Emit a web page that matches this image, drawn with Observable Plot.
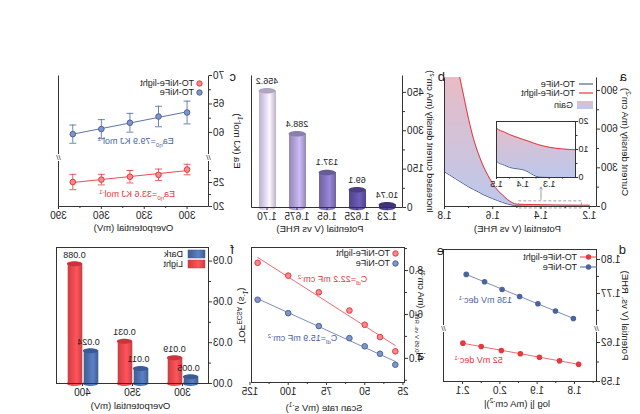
<!DOCTYPE html>
<html><head><meta charset="utf-8">
<script src="https://cdn.jsdelivr.net/npm/d3@7"></script>
<script src="https://cdn.jsdelivr.net/npm/@observablehq/plot@0.6"></script>
<style>
html,body{margin:0;padding:0;background:#fff;}
#fig{position:relative;width:640px;height:414px;overflow:hidden;transform:scaleX(-1);font-family:"Liberation Sans",Arial,sans-serif;color:#222;background:#fff;}
#fig svg.plotsvg{position:absolute;}
.lbl{position:absolute;font-size:13px;line-height:13px;}
.legt{position:absolute;font-size:9px;line-height:10px;white-space:nowrap;color:#222;}
.legs{position:absolute;overflow:visible;}
</style></head><body><div id="fig"></div><script>
// ================= DATA =================
const seriesNames = ["TO-NiFe", "TO-NiFe-light"];
const tofSeries = ["Dark", "Light"];
const panelLetters = ["a", "b", "c", "d", "e", "f"];

// (a) polarization curves
const potentialA = [1.20,1.25,1.30,1.34,1.36,1.38,1.40,1.43,1.45,1.47,1.50,1.52,1.54,1.56,1.58,1.60,1.62,1.64,1.66,1.68,1.70,1.72,1.74,1.76,1.78,1.80];
const currentDark = [0,0,0,0.2,0.9,2.0,2.8,3.2,3.6,4.4,5.8,11,20,32,46,60,76,92,113,132,152,175,198,222,245,268];
const currentLight = [9.9,10.2,10.8,11.7,12.3,13.0,13.6,14.6,15.3,16.2,17.6,30,55,90,125,176,240,315,410,525,675,850,1030,1220,1420,1620];
const zoomWindow = [{x1: 1.235, x2: 1.495, y1: -15, y2: 40}];
const zoomArrow = [{x: 1.40, y1: 55, y2: 150}];

// (b) increased current density
const gainPotential = ["1.23", "1.625", "1.65", "1.675", "1.70"];
const gainValue = [10.74, 69.1, 137.1, 288.4, 456.2];

// (c) apparent activation energy
const overpotC = [300, 320, 340, 360, 380];
const eaDark = [63.5, 62.8, 61.7, 60.6, 59.7];
const eaDarkErr = [2.0, 1.8, 1.65, 1.65, 1.6];
const eaLight = [27.7, 26.6, 26.2, 25.6, 25.1];
const eaLightErr = [1.1, 1.2, 1.3, 1.1, 1.6];
const eaLabels = ["Ea_{η0}=79.9 KJ mol^{-1}", "Ea_{η0}=33.6 KJ mol^{-1}"];

// (d) Tafel
const logjDark = [1.803, 1.851, 1.898, 1.947, 1.994, 2.041, 2.090];
const potDark = [1.7479, 1.7544, 1.7609, 1.7673, 1.7735, 1.7803, 1.7868];
const logjLight = [1.789, 1.840, 1.894, 1.945, 1.996, 2.050, 2.099];
const potLight = [1.6033, 1.6059, 1.6087, 1.6113, 1.6138, 1.6169, 1.6195];
const tafelLabels = ["136 mV dec^{-1}", "52 mV dec^{-1}"];

// (e) double layer capacitance
const scanRate = [30, 40, 50, 60, 80, 100, 120];
const jDark = [3.71, 4.21, 4.55, 4.92, 5.47, 6.06, 6.67];
const jLight = [4.32, 4.97, 5.53, 6.18, 7.01, 7.77, 8.35];
const cdlLabels = ["C_{dl}=15.9 mF cm^{-2}", "C_{dl}=22.2 mF cm^{-2}"];

// (f) TOF
const tofOverpot = ["300", "350", "400"];
const tofDark = [0.005, 0.011, 0.024];
const tofLight = [0.019, 0.031, 0.088];

// ================= STYLE / HELPERS =================
const SVGNS = "http://www.w3.org/2000/svg";
const FONT = '"Liberation Sans", Arial, sans-serif';
const RED = "#e8383d", BLUE = "#4a64a0", AX = "#333";
const fig = document.getElementById("fig");
const ST = (fs = 10) => ({background: "none", overflow: "visible", fontFamily: FONT, fontSize: fs + "px", color: "#222"});

const ELLIPSE = {draw(ctx, size) {
  const rx = Math.sqrt(size / Math.PI), ry = rx * 0.33, k = 0.5523;
  ctx.moveTo(rx, 0);
  ctx.bezierCurveTo(rx, ry * k, rx * k, ry, 0, ry);
  ctx.bezierCurveTo(-rx * k, ry, -rx, ry * k, -rx, 0);
  ctx.bezierCurveTo(-rx, -ry * k, -rx * k, -ry, 0, -ry);
  ctx.bezierCurveTo(rx * k, -ry, rx, -ry * k, rx, 0);
  ctx.closePath();
}};
const CAP = {draw(ctx, size) { const w = Math.sqrt(size / Math.PI); ctx.moveTo(-w, 0); ctx.lineTo(w, 0); }};

const openFrame = (W, H) => Plot.frame({stroke: AX, strokeDasharray: `0 ${W} ${2 * H + W}`});
const T = (s, o) => Plot.text([s], {text: d => d, fontSize: 9.5, textAnchor: "middle", lineAnchor: "middle", ...o});

function richify(svg) {
  svg.querySelectorAll("text").forEach(t => {
    const s = t.textContent;
    if (!/[_^]\{/.test(s)) return;
    const fs = parseFloat(getComputedStyle(t).fontSize) || 10;
    t.textContent = "";
    const re = /([_^])\{([^}]*)\}|([^_^]+)/g;
    let m, cur = 0;
    while ((m = re.exec(s))) {
      const ts = document.createElementNS(SVGNS, "tspan");
      let target = 0;
      if (m[3] !== undefined) ts.textContent = m[3];
      else {
        ts.textContent = m[2];
        ts.setAttribute("font-size", (fs * 0.68).toFixed(2));
        target = m[1] === "_" ? fs * 0.28 : -fs * 0.38;
      }
      ts.setAttribute("dy", (target - cur).toFixed(2));
      cur = target;
      t.appendChild(ts);
    }
  });
}
function mount(svg, left, top, defs) {
  svg.classList.add("plotsvg");
  svg.style.position = "absolute";
  svg.style.left = left + "px";
  svg.style.top = top + "px";
  if (defs) { const d = document.createElementNS(SVGNS, "defs"); d.innerHTML = defs; svg.insertBefore(d, svg.firstChild); }
  fig.appendChild(svg);
  richify(svg);
}
function cylGrad(id, c) {
  const base = d3.color(c), hi = d3.color(c).brighter(0.55), lo = d3.color(c).darker(0.35);
  return `<linearGradient id="${id}" x1="0" x2="1" y1="0" y2="0"><stop offset="0" stop-color="${lo}"/><stop offset="0.38" stop-color="${hi}"/><stop offset="0.75" stop-color="${base}"/><stop offset="1" stop-color="${lo}"/></linearGradient>`;
}
const gainGrad = (id, y1, y2) => `<linearGradient id="${id}" gradientUnits="userSpaceOnUse" x1="0" x2="0" y1="${y1}" y2="${y2}"><stop offset="0" stop-color="#e8bcc6"/><stop offset="1" stop-color="#bcc8ec"/></linearGradient>`;

// ================= (a) =================
const dA = potentialA.map((p, i) => ({p, dark: currentDark[i], light: currentLight[i]}));
const svgA = Plot.plot({
  width: 200, height: 175, marginTop: 17, marginRight: 5, marginBottom: 29, marginLeft: 43, style: ST(),
  x: {domain: [1.17, 1.8]}, y: {domain: [0, 1000]},
  marks: [
    Plot.areaY(dA, {x: "p", y1: "dark", y2: "light", fill: "url(#gainA)", curve: "monotone-x", clip: true}),
    Plot.lineY(dA, {x: "p", y: "dark", stroke: BLUE, strokeWidth: 1, curve: "monotone-x", clip: true}),
    Plot.lineY(dA, {x: "p", y: "light", stroke: RED, strokeWidth: 1, curve: "monotone-x", clip: true}),
    Plot.rect(zoomWindow, {x1: "x1", x2: "x2", y1: "y1", y2: "y2", fill: "none", stroke: "#8a8a8a", strokeDasharray: "3,2", strokeWidth: 0.8}),
    Plot.arrow(zoomArrow, {x1: "x", x2: "x", y1: "y1", y2: "y2", stroke: "#8a8a8a", strokeWidth: 0.8, headLength: 4}),
    openFrame(152, 129),
    Plot.axisX({ticks: [1.2, 1.4, 1.6, 1.8], tickFormat: ".1f", tickSize: 3, tickPadding: 2.5, label: null, stroke: AX}),
    Plot.axisX({ticks: [1.3, 1.5, 1.7], tickSize: 2, fill: "none", label: null, stroke: AX}),
    Plot.axisY({ticks: [0, 300, 600, 900], tickSize: 3, tickPadding: 1.5, label: null, stroke: AX}),
    Plot.axisY({ticks: [150, 450, 750], tickSize: 2, fill: "none", label: null, stroke: AX}),
    T("Potential (V vs RHE)", {frameAnchor: "bottom", dy: 22, dx: 3}),
    T("Current density (mA cm^{-2})", {frameAnchor: "left", dx: -29, rotate: -90})
  ]
});
mount(svgA, 0, 60, gainGrad("gainA", 17, 146));

const svgInset = Plot.plot({
  width: 110, height: 82, marginTop: 11, marginRight: 7, marginBottom: 15, marginLeft: 24, style: ST(9),
  x: {domain: [1.2, 1.5]}, y: {domain: [0, 20]},
  marks: [
    Plot.frame({fill: "white", stroke: "none"}),
    Plot.areaY(dA, {x: "p", y1: "dark", y2: "light", fill: "url(#gainI)", curve: "monotone-x", clip: true}),
    Plot.lineY(dA, {x: "p", y: "dark", stroke: BLUE, strokeWidth: 1, curve: "monotone-x", clip: true}),
    Plot.lineY(dA, {x: "p", y: "light", stroke: RED, strokeWidth: 1, curve: "monotone-x", clip: true}),
    Plot.frame({stroke: AX}),
    Plot.axisX({ticks: [1.3, 1.4, 1.5], tickFormat: ".1f", tickSize: 2, tickPadding: 1, label: null, stroke: AX}),
    Plot.axisX({ticks: [1.25, 1.35, 1.45], tickSize: 1.5, fill: "none", label: null, stroke: AX}),
    Plot.axisY({ticks: [0, 10, 20], tickSize: 2, tickPadding: 1, label: null, stroke: AX}),
    Plot.axisY({ticks: [5, 15], tickSize: 1.5, fill: "none", label: null, stroke: AX})
  ]
});
mount(svgInset, 40, 110, gainGrad("gainI", 11, 67));

// ================= (b) =================
const bColors = ["#4d4090", "#5b4d9c", "#7e70b4", "#a89acc", "#d4cae7"];
const dB = gainPotential.map((p, i) => ({p, v: gainValue[i], k: i}));
const svgB = Plot.plot({
  width: 200, height: 175, marginTop: 15, marginRight: 12, marginBottom: 28, marginLeft: 37, style: ST(),
  x: {domain: gainPotential, paddingInner: 0.44, paddingOuter: 0.22},
  y: {domain: [0, 516]},
  color: {type: "identity"},
  marks: [
    Plot.dot(dB, {x: "p", y: 0, r: 8.45, symbol: ELLIPSE, fill: d => `url(#cylB${d.k})`}),
    Plot.barY(dB, {x: "p", y: "v", fill: d => `url(#cylB${d.k})`}),
    Plot.dot(dB, {x: "p", y: "v", r: 8.45, symbol: ELLIPSE, fill: d => d3.color(bColors[d.k]).darker(0.55).formatHex()}),
    Plot.text(dB, {x: "p", y: "v", text: d => String(d.v), dy: -10, fontSize: 9}),
    openFrame(151, 132),
    Plot.axisX({tickSize: 3, tickPadding: 2.5, label: null, stroke: AX}),
    Plot.axisY({ticks: [0, 150, 300, 450], tickSize: 3, tickPadding: 1.5, label: null, stroke: AX}),
    Plot.axisY({ticks: [75, 225, 375], tickSize: 2, fill: "none", label: null, stroke: AX}),
    T("Potential (V vs RHE)", {frameAnchor: "bottom", dy: 21, dx: 7}),
    T("Increased current density (mA cm^{-2})", {frameAnchor: "left", dx: -27, rotate: -90, fontSize: 9})
  ]
});
mount(svgB, 200, 60, bColors.map((c, i) => cylGrad("cylB" + i, c)).join(""));

// ================= (c) =================
const cY = v => v < 42 ? (v - 20) * 4.8 : 49 + (v - 55.6) * 5.694;
const cTicks = [20, 25, 60, 65, 70];
const cTickMap = new Map(cTicks.map(v => [cY(v), String(v)]));
const dC = overpotC.map((x, i) => ({x, dark: eaDark[i], de: eaDarkErr[i], light: eaLight[i], le: eaLightErr[i]}));
const svgC = Plot.plot({
  width: 200, height: 175, marginTop: 15, marginRight: 19, marginBottom: 29, marginLeft: 31, style: ST(),
  x: {domain: [285, 390]}, y: {domain: [0, 131]},
  marks: [
    Plot.linearRegressionY(dC, {x: "x", y: d => cY(d.dark), stroke: BLUE, strokeWidth: 0.9, ci: 0}),
    Plot.linearRegressionY(dC, {x: "x", y: d => cY(d.light), stroke: RED, strokeWidth: 0.9, ci: 0}),
    Plot.ruleX(dC, {x: "x", y1: d => cY(d.dark - d.de), y2: d => cY(d.dark + d.de), stroke: BLUE, strokeWidth: 0.8}),
    Plot.dot(dC, {x: "x", y: d => cY(d.dark - d.de), r: 3.5, symbol: CAP, stroke: BLUE, fill: "none", strokeWidth: 0.8}),
    Plot.dot(dC, {x: "x", y: d => cY(d.dark + d.de), r: 3.5, symbol: CAP, stroke: BLUE, fill: "none", strokeWidth: 0.8}),
    Plot.ruleX(dC, {x: "x", y1: d => cY(d.light - d.le), y2: d => cY(d.light + d.le), stroke: RED, strokeWidth: 0.8}),
    Plot.dot(dC, {x: "x", y: d => cY(d.light - d.le), r: 3.5, symbol: CAP, stroke: RED, fill: "none", strokeWidth: 0.8}),
    Plot.dot(dC, {x: "x", y: d => cY(d.light + d.le), r: 3.5, symbol: CAP, stroke: RED, fill: "none", strokeWidth: 0.8}),
    Plot.dot(dC, {x: "x", y: d => cY(d.dark), r: 2.8, fill: "#8196c6", stroke: BLUE, strokeWidth: 1}),
    Plot.dot(dC, {x: "x", y: d => cY(d.light), r: 2.8, fill: "#f48a8d", stroke: RED, strokeWidth: 1}),
    Plot.text([eaLabels[0]], {text: d => d, x: 336, y: cY(58.4), fill: BLUE, fontSize: 9}),
    Plot.text([eaLabels[1]], {text: d => d, x: 335, y: cY(22.5), fill: RED, fontSize: 9}),
    openFrame(150, 131),
    Plot.text([285, 390], {x: d => d, y: 49, text: () => "//", fontSize: 8, fill: AX, stroke: "white", strokeWidth: 2}),
    Plot.axisX({ticks: [300, 330, 360, 390], tickSize: 3, tickPadding: 2, label: null, stroke: AX}),
    Plot.axisX({ticks: [315, 345, 375], tickSize: 2, fill: "none", label: null, stroke: AX}),
    Plot.axisY({ticks: cTicks.map(cY), tickFormat: v => cTickMap.get(v), tickSize: 3, tickPadding: 1.5, label: null, stroke: AX}),
    Plot.axisY({ticks: [22.5, 27.5, 62.5, 67.5].map(cY), tickSize: 2, fill: "none", label: null, stroke: AX}),
    T("Overpotential (mV)", {frameAnchor: "bottom", dy: 21}),
    T("Ea (KJ mol^{-1})", {frameAnchor: "left", dx: -29, rotate: -90})
  ]
});
mount(svgC, 400, 60);

// ================= (d) =================
const dYf = v => v < 1.7 ? (v - 1.59) * 1300 : 53 + (v - 1.739) * 1132;
const dTicks = [1.59, 1.62, 1.77, 1.80];
const dTickMap = new Map(dTicks.map(v => [dYf(v), v.toFixed(2)]));
const dDark = logjDark.map((x, i) => ({x, y: potDark[i]}));
const dLight = logjLight.map((x, i) => ({x, y: potLight[i]}));
const svgD = Plot.plot({
  width: 210, height: 179, marginTop: 14, marginRight: 14, marginBottom: 33, marginLeft: 43, style: ST(),
  x: {domain: [1.741, 2.151]}, y: {domain: [0, 132]},
  marks: [
    Plot.linearRegressionY(dDark, {x: "x", y: d => dYf(d.y), stroke: "#6b80b4", strokeWidth: 0.9, ci: 0}),
    Plot.linearRegressionY(dLight, {x: "x", y: d => dYf(d.y), stroke: "#ee5a5f", strokeWidth: 0.9, ci: 0}),
    Plot.dot(dDark, {x: "x", y: d => dYf(d.y), r: 2.8, fill: BLUE}),
    Plot.dot(dLight, {x: "x", y: d => dYf(d.y), r: 2.8, fill: RED}),
    Plot.text([tafelLabels[0]], {text: d => d, x: 2.039, y: dYf(1.7637), fill: BLUE, fontSize: 9}),
    Plot.text([tafelLabels[1]], {text: d => d, x: 2.057, y: dYf(1.6062), fill: RED, fontSize: 9}),
    Plot.frame({stroke: AX}),
    Plot.text([1.741, 2.151], {x: d => d, y: 53, text: () => "//", fontSize: 8, fill: AX, stroke: "white", strokeWidth: 2}),
    Plot.axisX({ticks: [1.8, 1.9, 2.0, 2.1], tickFormat: ".1f", tickSize: 3, tickPadding: 2.5, label: null, stroke: AX}),
    Plot.axisX({ticks: [1.75, 1.85, 1.95, 2.05], tickSize: 2, fill: "none", label: null, stroke: AX}),
    Plot.axisY({ticks: dTicks.map(dYf), tickFormat: v => dTickMap.get(v), tickSize: 3, tickPadding: 1.5, label: null, stroke: AX}),
    Plot.axisY({ticks: [1.605, 1.755, 1.785].map(dYf), tickSize: 2, fill: "none", label: null, stroke: AX}),
    T("log |j (mA cm^{-2})|", {frameAnchor: "bottom", dy: 22, dx: 3}),
    T("Potential (V vs. RHE)", {frameAnchor: "left", dx: -29, rotate: -90})
  ]
});
mount(svgD, 0, 235);

// ================= (e) =================
const eDark = scanRate.map((x, i) => ({x, y: jDark[i]}));
const eLight = scanRate.map((x, i) => ({x, y: jLight[i]}));
const svgE = Plot.plot({
  width: 200, height: 179, marginTop: 12, marginRight: 12, marginBottom: 32, marginLeft: 35, style: ST(),
  x: {domain: [24, 124]}, y: {domain: [2.9, 9.05]},
  marks: [
    Plot.linearRegressionY(eDark, {x: "x", y: "y", stroke: "#6b80b4", strokeWidth: 0.9, ci: 0}),
    Plot.linearRegressionY(eLight, {x: "x", y: "y", stroke: "#ee5a5f", strokeWidth: 0.9, ci: 0}),
    Plot.dot(eDark, {x: "x", y: "y", r: 2.8, fill: "#8196c6", stroke: BLUE, strokeWidth: 1}),
    Plot.dot(eLight, {x: "x", y: "y", r: 2.8, fill: "#f48a8d", stroke: RED, strokeWidth: 1}),
    Plot.text([cdlLabels[0]], {text: d => d, x: 90.7, y: 4.9, fill: BLUE, fontSize: 9}),
    Plot.text([cdlLabels[1]], {text: d => d, x: 71, y: 7.6, fill: RED, fontSize: 9}),
    Plot.frame({stroke: AX}),
    Plot.axisX({ticks: [25, 50, 75, 100, 125], tickSize: 3, tickPadding: 2.5, label: null, stroke: AX}),
    Plot.axisX({ticks: [37.5, 62.5, 87.5, 112.5], tickSize: 2, fill: "none", label: null, stroke: AX}),
    Plot.axisY({ticks: [4, 6, 8], tickSize: 3, tickPadding: 1.5, label: null, stroke: AX}),
    Plot.axisY({ticks: [3, 5, 7, 9], tickSize: 2, fill: "none", label: null, stroke: AX}),
    T("Scan rate (mV s^{-1})", {frameAnchor: "bottom", dy: 25, dx: 4}),
    T("Δj_{0.95 V vs. RHE} (mA cm^{-2})", {frameAnchor: "left", dx: -16, rotate: -90, fontSize: 9})
  ]
});
mount(svgE, 200, 235);

// ================= (f) =================
const fColors = ["#4a6aa5", "#e4464b"];
const dF = tofOverpot.map((op, i) => ({op, dark: tofDark[i], light: tofLight[i]}));
const svgF = Plot.plot({
  width: 200, height: 179, marginTop: 12, marginRight: 17, marginBottom: 31, marginLeft: 31, style: ST(),
  x: {domain: tofOverpot, padding: 0}, y: {domain: [0, 0.1]},
  marks: [
    Plot.dot(dF, {x: "op", y: 0, dx: -8, r: 7.6, symbol: ELLIPSE, fill: "url(#cylFD)"}),
    Plot.dot(dF, {x: "op", y: 0, dx: 8, r: 7.6, symbol: ELLIPSE, fill: "url(#cylFL)"}),
    Plot.barY(dF, {x: "op", y: "dark", insetLeft: 9.7, insetRight: 25.7, fill: "url(#cylFD)"}),
    Plot.barY(dF, {x: "op", y: "light", insetLeft: 25.7, insetRight: 9.7, fill: "url(#cylFL)"}),
    Plot.dot(dF, {x: "op", y: "dark", dx: -8, r: 7.6, symbol: ELLIPSE, fill: "#3c5b94"}),
    Plot.dot(dF, {x: "op", y: "light", dx: 8, r: 7.6, symbol: ELLIPSE, fill: "#c8343a"}),
    Plot.text(dF, {x: "op", y: "dark", dx: -6, dy: -9, text: d => String(d.dark), fontSize: 9}),
    Plot.text(dF, {x: "op", y: "light", dx: 8, dy: -9, text: d => String(d.light), fontSize: 9}),
    Plot.frame({stroke: AX}),
    Plot.axisX({tickSize: 3, tickPadding: 2.5, label: null, stroke: AX}),
    Plot.axisY({ticks: [0, 0.03, 0.06, 0.09], tickFormat: ".2f", tickSize: 3, tickPadding: 1.5, label: null, stroke: AX}),
    Plot.axisY({ticks: [0.015, 0.045, 0.075], tickSize: 2, fill: "none", label: null, stroke: AX}),
    T("Overpotential (mV)", {frameAnchor: "bottom", dy: 22, dx: 2}),
    T("TOF_{ECSA} (s^{-1})", {frameAnchor: "left", dx: -34, rotate: -90})
  ]
});
mount(svgF, 400, 235, cylGrad("cylFD", fColors[0]) + cylGrad("cylFL", fColors[1]));

// ================= letters & legends =================
const letterPos = [[13, 70], [195, 70], [404, 70], [14, 243], [196, 244], [406, 243]];
panelLetters.forEach((s, i) => {
  const d = document.createElement("div");
  d.className = "lbl"; d.textContent = s;
  d.style.left = letterPos[i][0] + "px"; d.style.top = letterPos[i][1] + "px";
  fig.appendChild(d);
});
function legRow(symSvg, sx, sw, sh, tx, cy, label) {
  const s = document.createElementNS(SVGNS, "svg");
  s.setAttribute("class", "legs"); s.setAttribute("width", sw); s.setAttribute("height", sh);
  s.style.left = sx + "px"; s.style.top = (cy - sh / 2) + "px";
  s.innerHTML = symSvg;
  fig.appendChild(s);
  const t = document.createElement("div");
  t.className = "legt"; t.textContent = label;
  t.style.left = tx + "px"; t.style.top = (cy - 5.5) + "px";
  fig.appendChild(t);
}
const lineSym = c => `<line x1="0" y1="4" x2="14" y2="4" stroke="${c}" stroke-width="1.2"/>`;
const ringSym = (c, f) => `<circle cx="3.5" cy="3.5" r="2.7" fill="${f}" stroke="${c}" stroke-width="1"/>`;
const lineDotSym = c => `<line x1="0" y1="4" x2="17" y2="4" stroke="${c}" stroke-width="1"/><circle cx="8.5" cy="4" r="2.7" fill="${c}"/>`;
const boxSym = (id, c) => cylGrad(id, c).replace("<linearGradient", "<defs><linearGradient").replace("</linearGradient>", "</linearGradient></defs>") + `<rect x="0" y="0" width="17" height="8" fill="url(#${id})" stroke="${d3.color(c).darker(0.4)}" stroke-width="0.5"/>`;
// (a)
legRow(lineSym(BLUE), 47, 14, 8, 65, 84, seriesNames[0]);
legRow(lineSym(RED), 47, 14, 8, 65, 93, seriesNames[1]);
legRow(`<defs><linearGradient id="gainLeg" x1="0" x2="0" y1="0" y2="1"><stop offset="0" stop-color="#e8bcc6"/><stop offset="1" stop-color="#bcc8ec"/></linearGradient></defs><rect width="16" height="8" fill="url(#gainLeg)"/>`, 47, 16, 8, 67, 105, "Gain");
// (c)
legRow(ringSym(RED, "#f48a8d"), 436.5, 7, 7, 446, 83, seriesNames[1]);
legRow(ringSym(BLUE, "#8196c6"), 436.5, 7, 7, 446, 92, seriesNames[0]);
// (d)
legRow(lineDotSym(RED), 43, 17, 8, 63, 257, seriesNames[1]);
legRow(lineDotSym(BLUE), 43, 17, 8, 63, 267, seriesNames[0]);
// (e)
legRow(ringSym(RED, "#f48a8d"), 240.5, 7, 7, 250, 253, seriesNames[1]);
legRow(ringSym(BLUE, "#8196c6"), 240.5, 7, 7, 250, 263, seriesNames[0]);
// (f)
legRow(boxSym("legFD", fColors[0]), 435, 17, 8, 457, 254, tofSeries[0]);
legRow(boxSym("legFL", fColors[1]), 435, 17, 8, 457, 264, tofSeries[1]);
</script></body></html>
